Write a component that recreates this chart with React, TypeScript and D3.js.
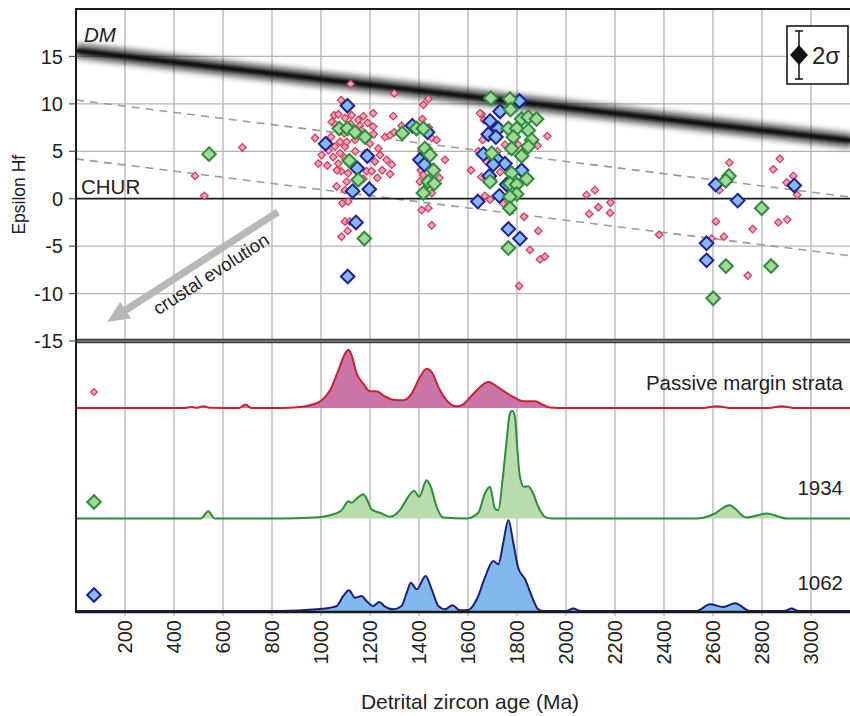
import React from "react";
import * as d3 from "d3";

// Hf isotope data, [age Ma, epsilon Hf]
const passiveMarginHf: [number, number][] = [
  [486, 2.4], [524, 0.3], [679, 5.4],
  [1121, 12.1], [1299, 11.1], [1082, 10.4], [1213, 9.0], [1295, 8.7], [1054, 8.8], [1071, 8.9],
  [1098, 8.5], [1125, 8.8], [1152, 8.3], [1173, 8.7], [1044, 8.1], [1213, 7.6], [976, 6.4],
  [1041, 6.5], [1261, 6.5], [1282, 6.7], [1299, 7.0], [1030, 5.1], [1057, 5.5], [1078, 6.0],
  [1098, 5.5], [1078, 4.8], [1050, 4.4], [1003, 4.6], [989, 3.7], [1026, 3.5], [1071, 3.7],
  [1098, 4.3], [1234, 5.3], [1241, 4.6], [1268, 4.1], [1289, 3.6], [1220, 3.9], [1082, 2.9],
  [1111, 2.7], [1186, 2.9], [1207, 2.9], [1282, 2.6], [1105, 1.8], [1064, 1.3], [1173, 2.1],
  [1098, 0.9], [1087, -0.5], [1111, -0.3], [1098, -2.4], [1118, -2.4], [1109, -3.4], [1084, -4.0],
  [1159, 7.7], [1139, 6.2], [1105, 6.0], [1060, 7.8], [1120, 7.9], [1165, 7.2], [1190, 8.0],
  [1215, 6.8], [1095, 6.9], [1140, 5.0], [1180, 4.8], [1065, 3.0], [1200, 5.8], [1250, 3.0], [1230, 2.2],
  [1438, 10.5], [1418, 9.9], [1414, 8.4], [1329, 7.7], [1452, 6.4], [1472, 6.2], [1506, 4.1],
  [1612, 3.0], [1408, 3.0], [1418, 2.5], [1404, 1.8], [1483, 2.2], [1452, 0.6], [1411, -1.2],
  [1438, -1.0], [1452, -2.8], [1410, 5.0], [1425, 4.2], [1440, 7.5],
  [1656, 8.9], [1924, 6.6], [1884, 5.6], [1751, 5.7], [1805, 5.7], [1642, 5.0], [1676, 3.9],
  [1731, 2.8], [1669, 0.3], [1690, -0.1], [1744, -0.5], [1829, -1.9], [1887, -3.4], [1853, -5.4],
  [1894, -6.4], [1914, -6.1], [1809, -9.2], [1665, 8.3], [1700, 7.0], [1720, 5.0], [1660, 6.2],
  [1700, 2.0], [1649, 9.0], [1655, 2.3],
  [2084, 0.4], [2118, 0.9], [2132, -0.9], [2182, -0.4], [2095, -1.6], [2180, -1.5], [2380, -3.8],
  [2667, 3.8], [2626, 0.9], [2612, -2.4], [2645, -4.0], [2594, -4.2], [2762, -3.2], [2742, -8.1],
  [2873, 4.2], [2846, 3.1], [2928, 2.4], [2901, 1.7], [2944, 0.4], [2867, -2.5], [2903, -2.2],
];

const sample1934Hf: [number, number][] = [
  [543, 4.7],
  [1075, 7.4], [1108, 7.4], [1139, 7.0], [1180, 6.5], [1116, 4.0], [1152, 2.0], [1177, -4.2],
  [1332, 6.9], [1390, 7.4], [1418, 7.4], [1424, 5.3], [1445, 4.6], [1459, 3.0], [1438, 1.8],
  [1462, 1.6], [1418, 0.6],
  [1693, 10.6], [1771, 10.5], [1774, 9.4], [1819, 8.4], [1846, 8.6], [1880, 8.4], [1765, 7.4],
  [1799, 7.4], [1846, 7.2], [1785, 6.5], [1860, 6.2], [1778, 5.3], [1846, 5.5], [1697, 4.8],
  [1819, 4.5], [1778, 2.7], [1690, 1.8], [1840, 2.1], [1771, 1.6], [1799, 1.5], [1799, 0.5],
  [1771, 0.2], [1771, -1.0], [1765, -5.2],
  [2665, 2.4], [2652, 1.9], [2799, -1.0], [2653, -7.1], [2837, -7.1], [2601, -10.5],
];

const sample1062Hf: [number, number][] = [
  [1108, 9.8], [1019, 5.8], [1189, 4.5], [1148, 3.2], [1129, 0.8], [1197, 1.0], [1143, -2.5], [1109, -8.2],
  [1373, 7.7], [1435, 7.0], [1404, 4.1], [1422, 3.6], [1640, -0.3],
  [1810, 10.3], [1731, 9.2], [1690, 8.2], [1724, 7.4], [1683, 6.8], [1714, 6.5], [1663, 4.7],
  [1717, 4.2], [1751, 3.7], [1703, 3.6], [1819, 3.0], [1687, 2.4], [1758, 1.5], [1728, 0.3],
  [1765, -3.2], [1812, -4.2],
  [2611, 1.5], [2701, -0.2], [2932, 1.4], [2574, -4.7], [2574, -6.5],
];

// probability density curves, [age Ma, relative probability]
const passiveMarginPdp: [number, number][] = [
  [0, 0], [440, 0], [472, 1], [495, 0.2], [520, 1.7], [545, 0.2], [665, 0], [692, 3.5], [715, 0],
  [833, 0], [914, 1], [969, 3.7], [1003, 7.7], [1037, 17.7], [1071, 37.7], [1098, 54.3], [1112, 58.3],
  [1125, 52.7], [1146, 34.3], [1173, 24.3], [1200, 16.7], [1227, 16.7], [1254, 12.7], [1295, 8.3],
  [1336, 7.7], [1370, 14.3], [1404, 31], [1431, 39.3], [1452, 36], [1479, 21], [1513, 7.7],
  [1554, 1.7], [1581, 3.7], [1622, 14.3], [1683, 26], [1731, 19.3], [1785, 11], [1826, 6.7],
  [1873, 6.7], [1907, 3], [1935, 0.5], [2000, 0], [2550, 0], [2615, 1.7], [2680, 0], [2820, 0],
  [2880, 1.7], [2940, 0], [3170, 0],
];

const sample1934Pdp: [number, number][] = [
  [0, 0], [510, 0], [540, 7.3], [565, 0], [833, 0], [969, 1], [1037, 3.3], [1084, 8.3], [1112, 17.3],
  [1125, 15.7], [1146, 20], [1173, 24.3], [1189, 18.3], [1207, 9], [1241, 5.7], [1282, 1.7],
  [1322, 8.3], [1356, 21.7], [1380, 27.7], [1401, 21.7], [1431, 38.3], [1448, 31.7], [1472, 11.7],
  [1499, 1], [1595, 0], [1642, 5.7], [1669, 25], [1690, 31.7], [1710, 10], [1724, 8.3], [1741, 38.3],
  [1758, 78.3], [1771, 105], [1781, 107.7], [1792, 101], [1801, 71.7], [1812, 41.7], [1829, 31.7],
  [1846, 32.3], [1866, 25], [1887, 11.7], [1914, 1.7], [1942, 0], [2533, 0], [2600, 4], [2667, 13.3],
  [2737, 1], [2819, 5], [2901, 0], [3170, 0],
];

const sample1062Pdp: [number, number][] = [
  [0, 0], [833, 0], [982, 1.7], [1037, 3.3], [1064, 5], [1091, 15], [1114, 20.7], [1139, 13.3],
  [1166, 15], [1186, 10], [1213, 5], [1238, 9], [1261, 4.3], [1295, 1.7], [1329, 5], [1350, 18.3],
  [1367, 28.3], [1391, 21.7], [1427, 35], [1452, 21.7], [1479, 5], [1506, 1.7], [1537, 5.7],
  [1567, 0.7], [1601, 1], [1636, 11.7], [1669, 33.3], [1703, 50], [1724, 46.7], [1744, 68.3],
  [1765, 91], [1785, 68.3], [1805, 43.3], [1833, 31.7], [1860, 15], [1887, 1.7], [1907, 0],
  [2000, 0], [2030, 2.4], [2060, 0], [2533, 0], [2588, 6.7], [2642, 4], [2690, 7.7], [2751, 0],
  [2890, 0], [2921, 2.4], [2950, 0], [3170, 0],
];

// reference evolution lines, [age Ma, epsilon Hf]
const depletedMantle: [number, number][] = [[0, 15.6], [3170, 6.1]];
const crustUpper: [number, number][] = [[0, 10.4], [3170, 0.15]];
const crustLower: [number, number][] = [[0, 4.2], [3170, -6.05]];
const crustalArrow: [number, number][] = [[824, -1.4], [127, -13.0]];

const xTicks = [200, 400, 600, 800, 1000, 1200, 1400, 1600, 1800, 2000, 2200, 2400, 2600, 2800, 3000];
const yTicks = [15, 10, 5, 0, -5, -10, -15];
const yGrid = [15, 10, 5, -5, -10];
const curveLabels = ["Passive margin strata", "1934", "1062"];

const font = "'Liberation Sans', Arial, Helvetica, sans-serif";

const x = d3.scaleLinear().domain([0, 3170]).range([76, 852.6]);
const y = d3.scaleLinear().domain([-15, 20]).range([341, 9]);
const h = d3.scaleLinear().domain([0, 110]).range([0, 110]);

const diamond = (cx: number, cy: number, r: number) =>
  `M${cx},${cy - r}L${cx + r},${cy}L${cx},${cy + r}L${cx - r},${cy}Z`;

const styles = [
  { stroke: "#c42430", fill: "#cb74a8", base: 408, r: 3.8, mStroke: "#cc3a5c", mFill: "#f3a3b7", mw: 1.2 },
  { stroke: "#2f8c3c", fill: "#b8dcae", base: 518.5, r: 6.8, mStroke: "#2e8b3a", mFill: "#a2d89c", mw: 2 },
  { stroke: "#1b1f7a", fill: "#82b8ee", base: 611, r: 6.8, mStroke: "#1f2290", mFill: "#86b8f4", mw: 2 },
];
const legendY = [392, 502, 595];
const labelY = [390, 495, 590];

const App = () => {
  const pdps = [passiveMarginPdp, sample1934Pdp, sample1062Pdp];
  const hfSets = [passiveMarginHf, sample1062Hf, sample1934Hf];
  const hfStyle = [styles[0], styles[2], styles[1]];

  const line2 = (d: [number, number][]) => `M${x(d[0][0])},${y(d[0][1])}L${x(d[1][0])},${y(d[1][1])}`;

  // arrow
  const [a0, a1] = crustalArrow.map(([a, e]) => [x(a), y(e)]);
  const ang = Math.atan2(a1[1] - a0[1], a1[0] - a0[0]);
  const ux = Math.cos(ang), uy = Math.sin(ang);
  const px = -uy, py = ux;
  const headLen = 22, headW = 10, shaftW = 3.6;
  const hb = [a1[0] - ux * headLen, a1[1] - uy * headLen];
  const arrowPts = [
    [a0[0] + px * shaftW, a0[1] + py * shaftW],
    [hb[0] + px * shaftW, hb[1] + py * shaftW],
    [hb[0] + px * headW, hb[1] + py * headW],
    a1,
    [hb[0] - px * headW, hb[1] - py * headW],
    [hb[0] - px * shaftW, hb[1] - py * shaftW],
    [a0[0] - px * shaftW, a0[1] - py * shaftW],
  ];
  const textAng = (Math.atan2(a0[1] - a1[1], a0[0] - a1[0]) * 180) / Math.PI;

  return (
    <svg width={850} height={716} style={{ display: "block", position: "absolute", left: 0, top: 0 }}>
      <defs>
        <clipPath id="upper">
          <rect x={76} y={9} width={780} height={332} />
        </clipPath>
        <filter id="blurWide" filterUnits="userSpaceOnUse" x={0} y={0} width={850} height={400}>
          <feGaussianBlur stdDeviation={3.4} />
        </filter>
        <filter id="blurCore" filterUnits="userSpaceOnUse" x={0} y={0} width={850} height={400}>
          <feGaussianBlur stdDeviation={0.9} />
        </filter>
      </defs>
      <rect x={0} y={0} width={850} height={716} fill="#fff" />

      {/* grid */}
      {xTicks.map((t) => (
        <line key={"gx" + t} x1={x(t)} x2={x(t)} y1={9} y2={616} stroke="#b4b4b4" strokeWidth={1.3} />
      ))}
      {yGrid.map((t) => (
        <line key={"gy" + t} x1={76} x2={852} y1={y(t)} y2={y(t)} stroke="#b4b4b4" strokeWidth={1.3} />
      ))}

      <g clipPath="url(#upper)">
        <path d={line2(crustUpper)} stroke="#9a9a9a" strokeWidth={1.6} strokeDasharray="8,6" fill="none" />
        <path d={line2(crustLower)} stroke="#9a9a9a" strokeWidth={1.6} strokeDasharray="8,6" fill="none" />
        <path d={line2(depletedMantle)} stroke="#000" strokeOpacity={0.7} strokeWidth={14} filter="url(#blurWide)" fill="none" />
        <path d={line2(depletedMantle)} stroke="#111" strokeWidth={4.5} filter="url(#blurCore)" fill="none" />
      </g>

      {/* CHUR */}
      <line x1={76} x2={852} y1={y(0)} y2={y(0)} stroke="#1a1a1a" strokeWidth={1.8} />

      {/* crustal evolution arrow */}
      <polygon points={arrowPts.map((p) => p.join(",")).join(" ")} fill="#b8b8b8" />
      <text
        transform={`translate(${x(565)},${y(-8.5)}) rotate(${textAng})`}
        textAnchor="middle"
        fontFamily={font}
        fontSize={18.5}
        fill="#222"
      >
        crustal evolution
      </text>

      {/* Hf points */}
      {hfSets.map((set, si) =>
        set.map(([a, e], i) => (
          <path
            key={`p${si}-${i}`}
            d={diamond(x(a), y(e), hfStyle[si].r)}
            fill={hfStyle[si].mFill}
            stroke={hfStyle[si].mStroke}
            strokeWidth={hfStyle[si].mw}
          />
        ))
      )}

      {/* density curves */}
      {pdps.map((d, i) => {
        const base = styles[i].base;
        const area = d3
          .area<[number, number]>()
          .x((p) => x(p[0]))
          .y0(base)
          .y1((p) => base - h(p[1]))
          .curve(d3.curveMonotoneX);
        const ln = d3
          .line<[number, number]>()
          .x((p) => x(p[0]))
          .y((p) => base - h(p[1]))
          .curve(d3.curveMonotoneX);
        return (
          <g key={"pdp" + i}>
            <path d={area(d) || ""} fill={styles[i].fill} />
            <path d={ln(d) || ""} fill="none" stroke={styles[i].stroke} strokeWidth={2} />
          </g>
        );
      })}

      {/* legend markers and curve labels */}
      {styles.map((s, i) => (
        <path
          key={"lm" + i}
          d={diamond(94, legendY[i], s.r * (i === 0 ? 0.9 : 1))}
          fill={s.mFill}
          stroke={s.mStroke}
          strokeWidth={s.mw}
        />
      ))}
      {curveLabels.map((l, i) => (
        <text key={"cl" + l} x={843} y={labelY[i]} textAnchor="end" fontFamily={font} fontSize={20.5} fill="#222">
          {l}
        </text>
      ))}

      {/* frame */}
      <line x1={76} x2={852} y1={9} y2={9} stroke="#1a1a1a" strokeWidth={2} />
      <line x1={76} x2={852} y1={341} y2={341} stroke="#3a3a3a" strokeWidth={4.5} />
      <line x1={76} x2={852} y1={341} y2={341} stroke="#a0a0a0" strokeWidth={1} />
      <line x1={76} x2={852} y1={612} y2={612} stroke="#1a1a1a" strokeWidth={2.5} />
      <line x1={76} x2={76} y1={8} y2={613} stroke="#1a1a1a" strokeWidth={2} />

      {/* y axis */}
      {yTicks.map((t) => (
        <g key={"yt" + t}>
          <line x1={69} x2={76} y1={y(t)} y2={y(t)} stroke="#555" strokeWidth={1.2} />
          <text x={63} y={y(t)} dy="0.36em" textAnchor="end" fontFamily={font} fontSize={20} fill="#222">
            {t}
          </text>
        </g>
      ))}
      <text
        transform={`translate(25,${y(0) - 4}) rotate(-90)`}
        textAnchor="middle"
        fontFamily={font}
        fontSize={17.5}
        fill="#222"
      >
        Epsilon Hf
      </text>

      {/* x axis */}
      {xTicks.map((t) => (
        <text
          key={"xt" + t}
          transform={`translate(${x(t)},620) rotate(-90)`}
          dy="0.36em"
          textAnchor="end"
          fontFamily={font}
          fontSize={20}
          fill="#222"
        >
          {t}
        </text>
      ))}
      <text x={470} y={709} textAnchor="middle" fontFamily={font} fontSize={21} fill="#222">
        Detrital zircon age (Ma)
      </text>

      {/* labels */}
      <text x={84} y={42} fontFamily={font} fontSize={20.5} fontStyle="italic" fill="#222">
        DM
      </text>
      <text x={81} y={194} fontFamily={font} fontSize={20.5} fill="#222">
        CHUR
      </text>

      {/* 2 sigma box */}
      <rect x={787} y={26} width={61} height={58} fill="#fff" stroke="#1a1a1a" strokeWidth={1.6} />
      <line x1={799} x2={799} y1={31} y2={79} stroke="#111" strokeWidth={1.5} />
      <line x1={795} x2={803} y1={31} y2={31} stroke="#111" strokeWidth={1.5} />
      <line x1={795} x2={803} y1={79} y2={79} stroke="#111" strokeWidth={1.5} />
      <path d="M799,45L808,55L799,65L790,55Z" fill="#111" />
      <text x={812} y={64} fontFamily={font} fontSize={24} fill="#222">
        2σ
      </text>
    </svg>
  );
};

export default App;
